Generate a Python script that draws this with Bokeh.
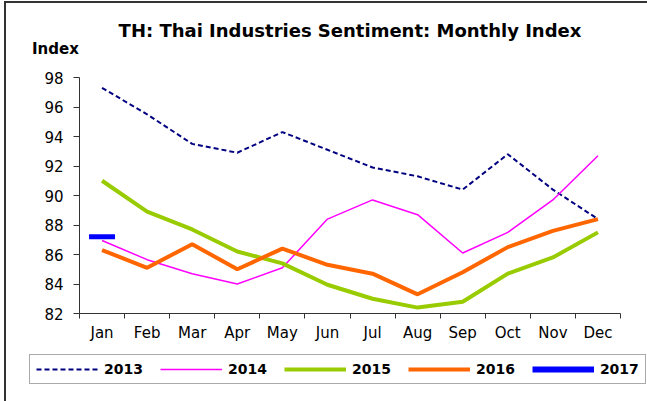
from bokeh.plotting import figure
from bokeh.models import (FactorRange, Range1d, LinearAxis, FixedTicker,
                          Legend, LegendItem, Title)
from bokeh.embed import file_html
from bokeh.resources import INLINE

months = ["Jan", "Feb", "Mar", "Apr", "May", "Jun", "Jul", "Aug", "Sep", "Oct", "Nov", "Dec"]
y2013 = [97.3, 95.5, 93.5, 92.9, 94.3, 93.1, 91.9, 91.3, 90.4, 92.8, 90.4, 88.4]
y2014 = [86.95, 85.65, 84.7, 84.0, 85.1, 88.4, 89.7, 88.7, 86.1, 87.5, 89.7, 92.7]
y2015 = [91.0, 88.9, 87.7, 86.2, 85.4, 83.95, 83.0, 82.4, 82.8, 84.7, 85.8, 87.5]
y2016 = [86.3, 85.1, 86.7, 85.0, 86.4, 85.3, 84.7, 83.3, 84.8, 86.5, 87.6, 88.4]
y2017 = [87.2]
years = ["2013", "2014", "2015", "2016", "2017"]
yticks = [82, 84, 86, 88, 90, 92, 94, 96, 98]
title_text = "TH: Thai Industries Sentiment: Monthly Index"
unit_text = "Index"

FONT = "DejaVu Sans"
series = [
    (years[0], y2013, dict(line_color="#000080", line_width=2, line_dash="5 3")),
    (years[1], y2014, dict(line_color="#FF00FF", line_width=1.5)),
    (years[2], y2015, dict(line_color="#99CC00", line_width=4)),
    (years[3], y2016, dict(line_color="#FF6600", line_width=4)),
    (years[4], y2017, dict(line_color="#0000FF", line_width=6)),
]

# ---------------- main chart ----------------
p = figure(width=641, height=345, x_range=FactorRange(*months), y_range=Range1d(82, 98),
           output_backend="svg", toolbar_location=None, x_axis_location=None,
           min_border_left=73, min_border_right=27, min_border_top=74, min_border_bottom=35,
           margin=(3, 0, 0, 6))
p.styles = {"box-shadow": "-2px 0 0 0 #333333, 0 -2px 0 0 #333333, -2px -2px 0 0 #333333"}
p.outline_line_color = None
p.xgrid.visible = False
p.ygrid.visible = False
p.background_fill_color = "white"
p.border_fill_color = "white"

ya = p.yaxis[0]
ya.ticker = FixedTicker(ticks=yticks)
ya.major_tick_out = 6
ya.major_tick_in = 0
ya.minor_tick_line_color = None
ya.major_label_standoff = 10
ya.major_label_text_font = FONT
ya.major_label_text_font_size = "15px"
ya.major_label_text_color = "#000000"
ya.axis_line_color = "#333333"
ya.major_tick_line_color = "#333333"

n = len(months)
xa = LinearAxis(ticker=FixedTicker(ticks=[i + 0.5 for i in range(n)],
                                   minor_ticks=list(range(n + 1))))
xa.major_label_overrides = {i + 0.5: m for i, m in enumerate(months)}
xa.major_tick_line_color = None
xa.major_tick_out = 0
xa.major_tick_in = 0
xa.minor_tick_out = 5
xa.minor_tick_in = 0
xa.minor_tick_line_color = "#333333"
xa.axis_line_color = "#333333"
xa.major_label_standoff = 5
xa.major_label_text_font = FONT
xa.major_label_text_font_size = "15px"
xa.major_label_text_color = "#000000"
p.add_layout(xa, "below")

for name, ys, st in series[:4]:
    p.line(months[:len(ys)], ys, **st)
p.scatter(months[:1], y2017, marker="dash", size=26, line_width=5, line_color="#0000FF")

p.add_layout(Title(text=unit_text, align="left", offset=-47.5, standoff=39.5,
                   text_font=FONT, text_font_style="bold", text_font_size="15px",
                   text_color="#000000"), "above")
p.add_layout(Title(text=title_text, align="center", offset=1.5, standoff=-47,
                   text_font=FONT, text_font_style="bold", text_font_size="18px",
                   text_color="#000000"), "above")

# ---------------- legend strip ----------------
lg = figure(width=641, height=53, x_range=p.x_range, y_range=Range1d(0, 1),
            output_backend="svg", toolbar_location=None,
            x_axis_location=None, y_axis_location=None,
            min_border_left=0, min_border_right=0, min_border_top=0, min_border_bottom=0,
            margin=(0, 0, 0, 6))
lg.styles = {"box-shadow": "-2px 0 0 0 #333333"}
lg.outline_line_color = None
lg.xgrid.visible = False
lg.ygrid.visible = False
items = []
for name, ys, st in series:
    r = lg.line(months[:len(ys)], ys, **st)
    items.append(LegendItem(label=name, renderers=[r]))

legend = Legend(items=items, orientation="horizontal", location=(23, 17))
legend.glyph_width = 62
legend.glyph_height = 16
legend.label_standoff = 6
legend.spacing = 17
legend.padding = 6
legend.margin = 0
legend.label_text_font = FONT
legend.label_text_font_style = "bold"
legend.label_text_font_size = "14px"
legend.label_text_color = "#000000"
legend.border_line_color = "#555555"
legend.border_line_width = 1
legend.background_fill_color = "white"
legend.background_fill_alpha = 1
lg.add_layout(legend, "center")

open("out.html", "w").write(file_html([p, lg], INLINE))
